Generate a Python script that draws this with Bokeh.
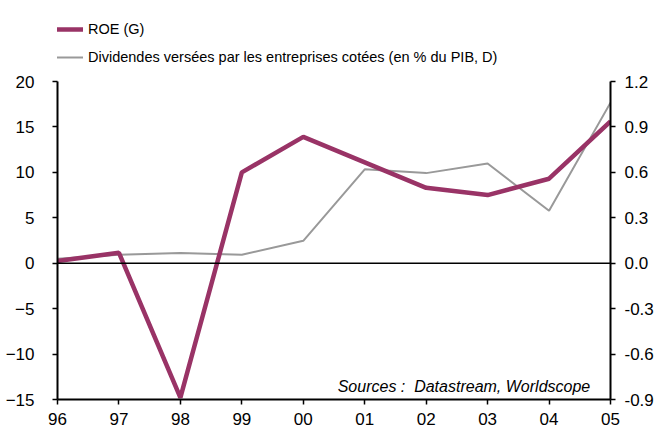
from bokeh.plotting import figure
from bokeh.layouts import column
from bokeh.models import (Range1d, LinearAxis, FixedTicker, Span, Legend, LegendItem,
                          Label, ColumnDataSource)
from bokeh.embed import file_html
from bokeh.resources import INLINE

years = ["96", "97", "98", "99", "00", "01", "02", "03", "04", "05"]
roe = [0.25, 1.15, -14.8, 10.0, 13.9, 11.1, 8.3, 7.5, 9.3, 15.6]
dividendes = [0.03, 0.056, 0.067, 0.056, 0.148, 0.62, 0.595, 0.658, 0.346, 1.06]
left_ticks = [-15, -10, -5, 0, 5, 10, 15, 20]
right_ticks = [-0.9, -0.6, -0.3, 0.0, 0.3, 0.6, 0.9, 1.2]
roe_label = "ROE (G)"
div_label = "Dividendes versées par les entreprises cotées (en % du PIB, D)"

ROE_COLOR = "#993366"
DIV_COLOR = "#999999"
FONT = "Liberation Sans"
W = 660
TOP_H = 72

xs = list(range(len(years)))
src = ColumnDataSource(dict(x=xs, roe=roe, div=dividendes))

# ---- legend strip (separate small figure, same width, no axes) ----
pl = figure(width=W, height=TOP_H, output_backend="svg", toolbar_location=None,
            x_range=Range1d(0, 1), y_range=Range1d(0, 1),
            x_axis_type=None, y_axis_type=None,
            min_border=0, min_border_left=0, min_border_right=0,
            min_border_top=0, min_border_bottom=0)
pl.grid.visible = False
pl.outline_line_color = None
pl.background_fill_color = "white"
pl.border_fill_color = "white"
# proxy renderers, kept outside the visible range: only their legend swatches show
proxy = ColumnDataSource(dict(x=[-2, -1], y=[-2, -2]))
lr_roe = pl.line("x", "y", source=proxy, line_color=ROE_COLOR, line_width=4.5)
lr_div = pl.line("x", "y", source=proxy, line_color=DIV_COLOR, line_width=2)
legend = Legend(items=[LegendItem(label=roe_label, renderers=[lr_roe]),
                       LegendItem(label=div_label, renderers=[lr_div])],
                location=(-15, 5), orientation="vertical")
legend.background_fill_alpha = 0
legend.border_line_color = None
legend.label_text_font = FONT
legend.label_text_font_size = "14.5px"
legend.label_text_color = "black"
legend.glyph_width = 41
legend.glyph_height = 20
legend.label_height = 20
legend.spacing = 8
legend.padding = 0
legend.margin = 0
legend.label_standoff = 5
pl.add_layout(legend, "center")

# ---- main chart ----
p = figure(width=W, height=360, frame_width=553, frame_height=318,
           output_backend="svg", toolbar_location=None,
           x_range=Range1d(0, len(years) - 1), y_range=Range1d(-15, 20),
           min_border_left=57, min_border_top=9, min_border_right=50,
           min_border_bottom=33)
p.outline_line_color = None
p.grid.visible = False
p.background_fill_color = "white"
p.border_fill_color = "white"

p.extra_y_ranges = {"right": Range1d(-0.9, 1.2)}
raxis = LinearAxis(y_range_name="right")
p.add_layout(raxis, "right")

for ax in [p.xaxis[0], p.yaxis[0], raxis]:
    ax.axis_line_color = "black"
    ax.axis_line_width = 2
    ax.major_tick_line_color = "black"
    ax.major_tick_line_width = 1.5
    ax.major_tick_out = 5
    ax.major_tick_in = 0
    ax.minor_tick_line_color = None
    ax.major_label_text_font = FONT
    ax.major_label_text_font_size = "17px"
    ax.major_label_text_color = "black"

p.xaxis.ticker = FixedTicker(ticks=xs)
p.xaxis.major_label_overrides = {i: y for i, y in enumerate(years)}
p.xaxis.major_label_standoff = 8
p.yaxis[0].ticker = FixedTicker(ticks=left_ticks)
p.yaxis[0].major_label_standoff = 18
raxis.ticker = FixedTicker(ticks=right_ticks)
raxis.major_label_overrides = {t: f"{t:.1f}" for t in right_ticks}
raxis.major_label_standoff = 9

zero = Span(location=0, dimension="width", line_color="black", line_width=1.5)
p.add_layout(zero)

p.line("x", "div", source=src, y_range_name="right",
       line_color=DIV_COLOR, line_width=2)
p.line("x", "roe", source=src, line_color=ROE_COLOR, line_width=4.5)

src_label = Label(x=8.67, y=-13.6, text="Sources :\u00a0 Datastream, Worldscope",
                  text_align="right", text_baseline="alphabetic",
                  text_font=FONT, text_font_style="italic",
                  text_font_size="16px", text_color="black")
p.add_layout(src_label)

layout = column(pl, p, spacing=0)
open("out.html", "w").write(file_html(layout, INLINE))
